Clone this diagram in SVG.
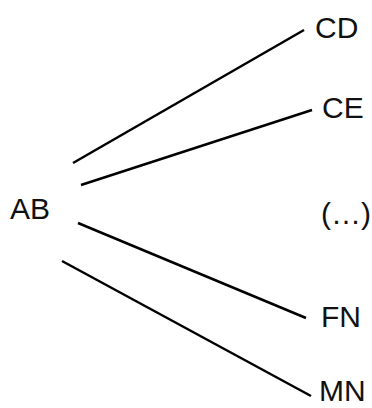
<svg xmlns="http://www.w3.org/2000/svg" width="372" height="408" viewBox="0 0 372 408">
<style>
text{font-family:"Liberation Sans",Arial,sans-serif;font-size:30px;fill:#111}
.c line{stroke:#000;stroke-width:2.5;stroke-linecap:butt}
</style>
<rect width="372" height="408" fill="#fff"/>
<g class="c" id="connectors">
<line x1="73" y1="163" x2="304" y2="30"/>
<line x1="81" y1="185" x2="312" y2="110"/>
<line x1="78" y1="223" x2="306" y2="318"/>
<line x1="62" y1="261" x2="311" y2="396"/>
</g>
<g id="AB"><text x="10" y="219">AB</text></g>
<g id="CD"><text x="315" y="38">CD</text></g>
<g id="CE"><text x="322" y="118">CE</text></g>
<g id="etc"><text x="321" y="224">(…)</text></g>
<g id="FN"><text x="321" y="327">FN</text></g>
<g id="MN"><text x="319" y="401">MN</text></g>
</svg>
